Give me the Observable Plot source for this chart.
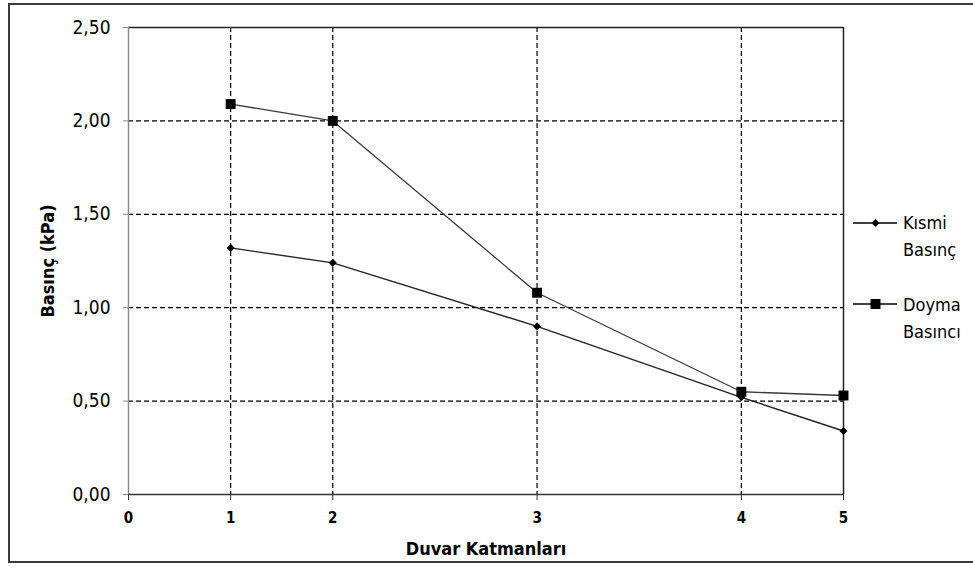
<!DOCTYPE html>
<html>
<head>
<meta charset="utf-8">
<script src="https://cdn.jsdelivr.net/npm/d3@7"></script>
<script src="https://cdn.jsdelivr.net/npm/@observablehq/plot@0.6"></script>
<style>
  html, body { margin: 0; padding: 0; background: #fff; overflow: hidden; }
  #wrap { position: relative; width: 973px; height: 568px; }
  #border { position: absolute; left: 8px; top: 3px; width: 990px; height: 560px; border: 2px solid #3a3a3a; box-sizing: border-box; }
  #chart { position: absolute; left: 0; top: 0; }
  #chart svg { font-family: "DejaVu Sans Condensed", "DejaVu Sans", sans-serif; }
  g[aria-label="y-axis tick label"] { font-size: 19px; }
  g[aria-label="x-axis tick label"] { font-weight: bold; font-size: 15px; }
  g[aria-label="x-axis label"], g[aria-label="y-axis label"] { font-weight: bold; font-size: 18px; }
  .leg { position: absolute; font-family: "DejaVu Sans Condensed", "DejaVu Sans", sans-serif; font-size: 18px; line-height: 27px; color: #000; }
  .sym { position: absolute; }
</style>
</head>
<body>
<div id="wrap">
  <div id="border"></div>
  <div id="chart"></div>
  <div id="legend"></div>
</div>
<script>
// Data
const layerPos = [1, 2, 4, 6, 7];          // x position of each wall layer (layers 1..5)
const tickPos = [0, 1, 2, 4, 6, 7];
const tickLabels = ["0", "1", "2", "3", "4", "5"];
const yTicks = [0, 0.5, 1, 1.5, 2, 2.5];
const kismi = [1.32, 1.24, 0.90, 0.52, 0.34];
const doyma = [2.09, 2.00, 1.08, 0.55, 0.53];
const seriesNames = ["Kısmi\nBasınç", "Doyma\nBasıncı"];

const kData = layerPos.map((x, i) => ({x, y: kismi[i]}));
const dData = layerPos.map((x, i) => ({x, y: doyma[i]}));
const dash = {stroke: "#000", strokeOpacity: 1, strokeDasharray: "5,3", strokeWidth: 1.2};

const chart = Plot.plot({
  width: 973,
  height: 568,
  marginLeft: 128,
  marginRight: 130,
  marginTop: 27,
  marginBottom: 74,
  style: {fontFamily: "'DejaVu Sans Condensed', 'DejaVu Sans', sans-serif", fontSize: "18px", color: "#000", background: "transparent"},
  x: {domain: [0, 7]},
  y: {domain: [0, 2.5]},
  marks: [
    Plot.gridY(yTicks.slice(1, -1), dash),
    Plot.gridX(tickPos.slice(1, -1), dash),
    Plot.ruleY([yTicks[yTicks.length - 1]], {stroke: "#222", strokeWidth: 1.5}),
    Plot.ruleX([tickPos[tickPos.length - 1]], {stroke: "#222", strokeWidth: 1.5}),
    Plot.ruleX([tickPos[0]], {stroke: "#8a8a8a", strokeWidth: 1.5}),
    Plot.ruleY([yTicks[0]], {stroke: "#333", strokeWidth: 1.6}),
    Plot.axisY(yTicks, {
      tickSize: 5, tickPadding: 13, stroke: "#8a8a8a", strokeOpacity: 1,
      tickFormat: d => d.toFixed(2).replace(".", ","),
      label: "Basınç (kPa)", labelAnchor: "center", labelArrow: "none", labelOffset: 87
    }),
    Plot.axisX(tickPos, {
      tickSize: 6, tickPadding: 12, stroke: "#333", strokeOpacity: 1,
      tickFormat: d => tickLabels[tickPos.indexOf(d)],
      label: "Duvar Katmanları", labelAnchor: "center", labelArrow: "none", labelOffset: 60
    }),
    Plot.line(dData, {x: "x", y: "y", stroke: "#3a3a3a", strokeWidth: 1.3}),
    Plot.line(kData, {x: "x", y: "y", stroke: "#222", strokeWidth: 1.4}),
    Plot.dot(dData, {x: "x", y: "y", symbol: "square", r: 5.6, fill: "#000", stroke: "none"}),
    Plot.dot(kData, {x: "x", y: "y", symbol: "square", rotate: 45, r: 3.2, fill: "#000", stroke: "none"})
  ]
});
document.getElementById("chart").appendChild(chart);

// Legend (HTML overlay to the right of the plot)
const legend = document.getElementById("legend");
const items = [
  {name: seriesNames[0], top: 209, lineY: 223, sym: "diamond"},
  {name: seriesNames[1], top: 291, lineY: 304, sym: "square"}
];
for (const it of items) {
  const s = document.createElementNS("http://www.w3.org/2000/svg", "svg");
  s.setAttribute("class", "sym");
  s.setAttribute("width", 50);
  s.setAttribute("height", 20);
  s.style.left = "852px";
  s.style.top = (it.lineY - 10) + "px";
  let marker = it.sym === "square"
    ? '<rect x="18.5" y="5" width="10" height="10" fill="#000"/>'
    : '<rect x="20.7" y="7.2" width="5.6" height="5.6" fill="#000" transform="rotate(45 23.5 10)"/>';
  s.innerHTML = '<line x1="1" x2="45" y1="10" y2="10" stroke="#000" stroke-width="1.5"/>' + marker;
  legend.appendChild(s);
  const t = document.createElement("div");
  t.className = "leg";
  t.style.left = "903px";
  t.style.top = it.top + "px";
  t.innerHTML = it.name.split("\n").join("<br>");
  legend.appendChild(t);
}
</script>
</body>
</html>
